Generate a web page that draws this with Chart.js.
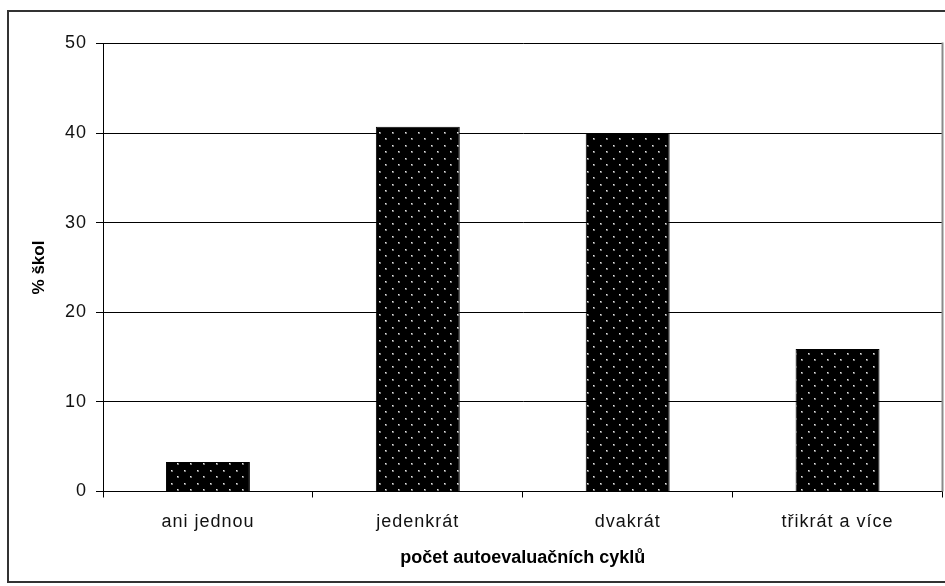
<!DOCTYPE html>
<html>
<head>
<meta charset="utf-8">
<script src="https://cdn.jsdelivr.net/npm/chart.js@4/dist/chart.umd.min.js"></script>
<style>
  html, body { margin: 0; padding: 0; background: #fff; }
  #wrap { width: 945px; height: 586px; position: relative; }
</style>
</head>
<body>
<div id="wrap"><canvas id="c" width="945" height="586"></canvas></div>
<script>
// Share of schools by number of self-evaluation cycles
const categories = ['ani jednou', 'jedenkrát', 'dvakrát', 'třikrát a více'];
const schoolShare = [3.3, 40.7, 40.0, 15.9];
const yTickValues = [0, 10, 20, 30, 40, 50];
const xTitle = 'počet autoevaluačních cyklů';
const yTitle = '% škol';

const FONT = '"Liberation Sans", Arial, sans-serif';

// Black fill sprinkled with light dots, staggered rows
function dotPattern(ctx) {
  const tile = document.createElement('canvas');
  tile.width = 13; tile.height = 13;
  const t = tile.getContext('2d');
  t.fillStyle = '#000';
  t.fillRect(0, 0, 13, 13);
  [[2, 2], [8, 8]].forEach(([x, y]) => {
    t.fillStyle = '#7a7a7a';
    t.fillRect(x, y, 2, 2);
    t.fillStyle = '#e8e8e8';
    t.fillRect(x, y, 1, 1);
  });
  return ctx.createPattern(tile, 'repeat');
}

// Airy lettering for tick labels; axis titles keep normal spacing
const spacingPlugin = {
  id: 'spacing',
  beforeDraw(chart) {
    const ctx = chart.ctx;
    Object.values(chart.scales).forEach(scale => {
      if (scale._tightTitle) return;
      const drawTitle = scale.drawTitle;
      scale.drawTitle = function () {
        const prev = ctx.letterSpacing;
        ctx.letterSpacing = '0px';
        drawTitle.apply(this, arguments);
        ctx.letterSpacing = prev;
      };
      scale._tightTitle = true;
    });
    ctx.letterSpacing = '1px';
  },
  afterDraw(chart) { chart.ctx.letterSpacing = '0px'; }
};

// Outer frame plus grey right edge of the plot area
const framePlugin = {
  id: 'frame',
  afterDraw(chart) {
    const { ctx, chartArea } = chart;
    ctx.save();
    ctx.fillStyle = '#333';
    ctx.fillRect(7, 10, 950, 2);
    ctx.fillRect(7, 10, 2, 573);
    ctx.fillRect(7, 581, 950, 2);
    ctx.strokeStyle = '#8a8a8a';
    ctx.lineWidth = 2;
    ctx.beginPath();
    ctx.moveTo(chartArea.right, chartArea.top - 1);
    ctx.lineTo(chartArea.right, chartArea.bottom);
    ctx.stroke();
    ctx.restore();
  }
};

const canvas = document.getElementById('c');
const ctx = canvas.getContext('2d');

new Chart(ctx, {
  type: 'bar',
  data: {
    labels: categories,
    datasets: [{
      data: schoolShare,
      backgroundColor: dotPattern(ctx),
      borderColor: '#000',
      borderWidth: 1,
      barPercentage: 0.4,
      categoryPercentage: 1.0
    }]
  },
  options: {
    responsive: false,
    animation: false,
    devicePixelRatio: 1,
    layout: { padding: { top: 43.5, right: 2.5, left: 0, bottom: 0 } },
    plugins: {
      legend: { display: false },
      tooltip: { enabled: false }
    },
    scales: {
      x: {
        afterFit(scale) { scale.height = 94.5; },
        grid: {
          offset: true,
          drawOnChartArea: false,
          drawTicks: true,
          tickLength: 6,
          color: '#000',
          lineWidth: 1
        },
        border: { color: '#000', width: 1 },
        ticks: {
          color: '#111',
          font: { family: FONT, size: 18 },
          padding: 14,
          maxRotation: 0
        },
        title: {
          display: true,
          text: xTitle,
          color: '#000',
          font: { family: FONT, size: 18, weight: 'bold' },
          padding: { top: 0, bottom: 17 }
        }
      },
      y: {
        min: 0,
        max: 50,
        afterFit(scale) { scale.width = 103; },
        afterBuildTicks(scale) { scale.ticks = yTickValues.map(v => ({ value: v })); },
        grid: {
          color: '#000',
          lineWidth: 1,
          drawTicks: true,
          tickLength: 7,
          tickColor: '#000'
        },
        border: { color: '#000', width: 1 },
        ticks: {
          color: '#111',
          font: { family: FONT, size: 18 },
          padding: 9
        },
        title: {
          display: true,
          text: yTitle,
          color: '#000',
          font: { family: FONT, size: 17, weight: 'bold' },
          padding: { top: 29, bottom: 0 }
        }
      }
    }
  },
  plugins: [spacingPlugin, framePlugin]
});
</script>
</body>
</html>
